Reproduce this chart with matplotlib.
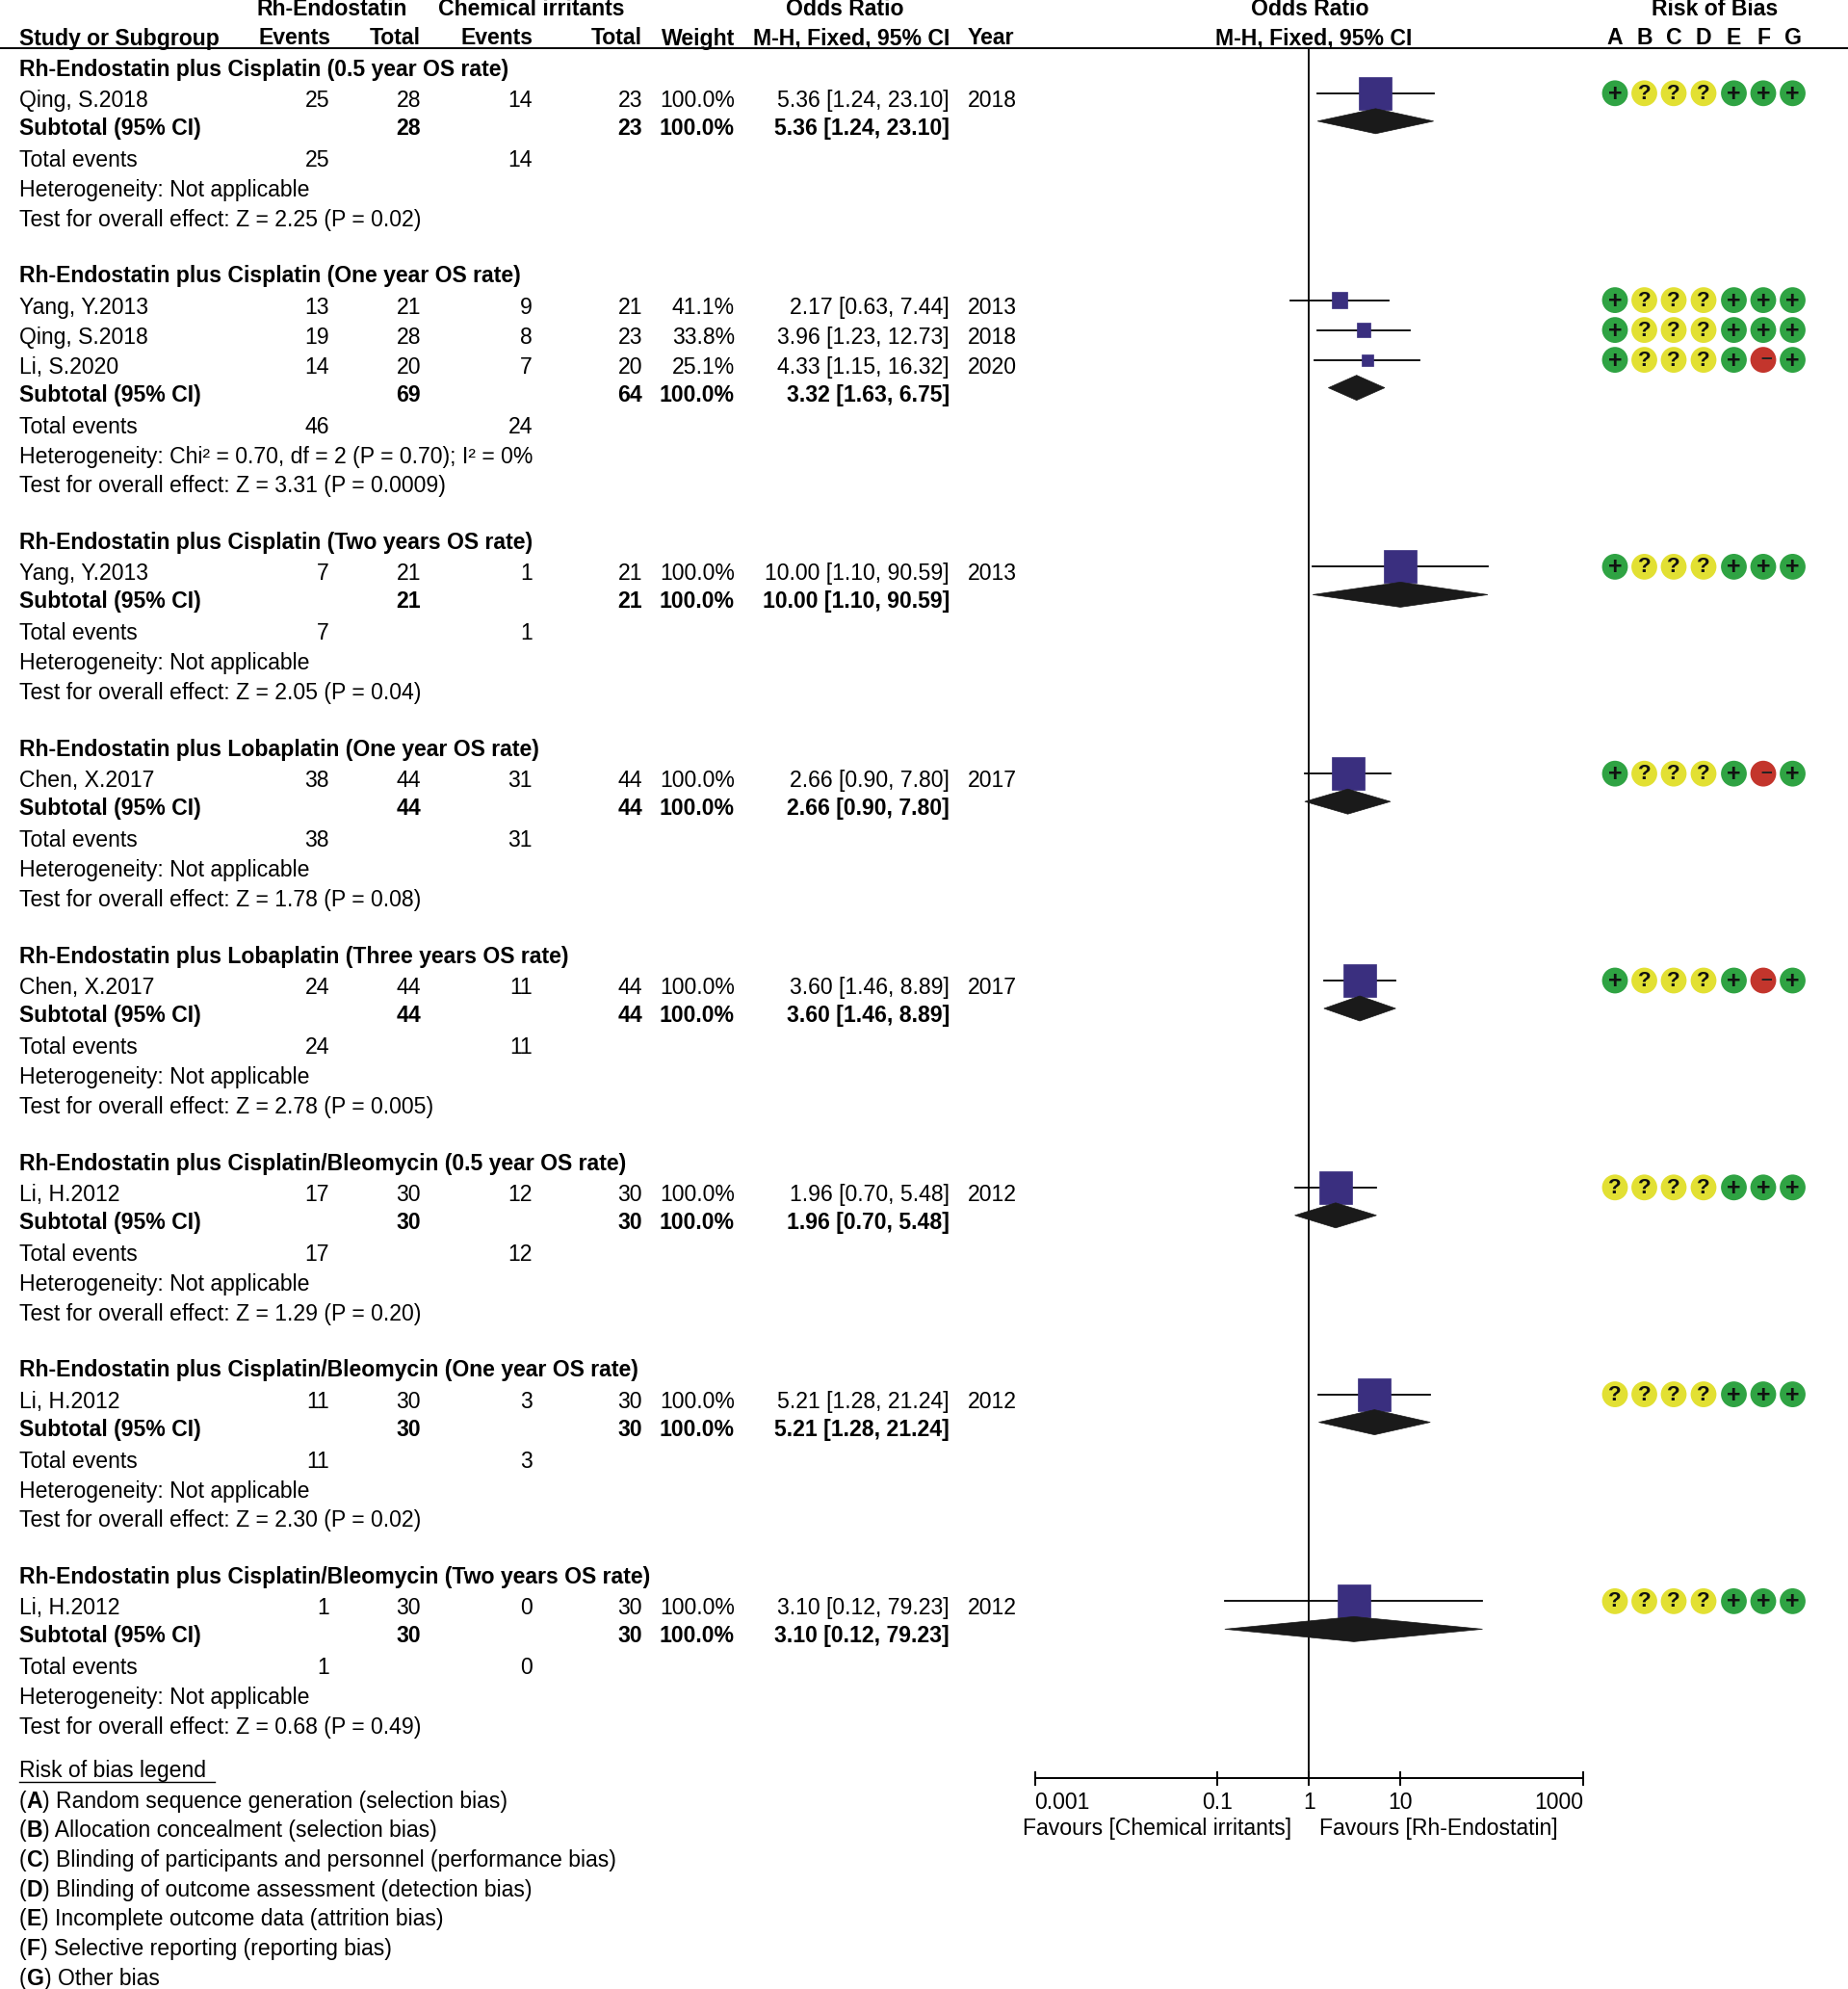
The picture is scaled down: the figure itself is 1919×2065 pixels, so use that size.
import numpy as np
import matplotlib
matplotlib.use("Agg")
import matplotlib.pyplot as plt
from matplotlib.patches import Rectangle, Polygon, Circle

plt.rcParams['font.family'] = ['Liberation Sans', 'DejaVu Sans']

# ---- data ----
group_titles = [
    "Rh-Endostatin plus Cisplatin (0.5 year OS rate)",
    "Rh-Endostatin plus Cisplatin (One year OS rate)",
    "Rh-Endostatin plus Cisplatin (Two years OS rate)",
    "Rh-Endostatin plus Lobaplatin (One year OS rate)",
    "Rh-Endostatin plus Lobaplatin (Three years OS rate)",
    "Rh-Endostatin plus Cisplatin/Bleomycin (0.5 year OS rate)",
    "Rh-Endostatin plus Cisplatin/Bleomycin (One year OS rate)",
    "Rh-Endostatin plus Cisplatin/Bleomycin (Two years OS rate)",
]
study_group = [0, 1, 1, 1, 2, 3, 4, 5, 6, 7]
study_names = ["Qing, S.2018", "Yang, Y.2013", "Qing, S.2018", "Li, S.2020", "Yang, Y.2013",
               "Chen, X.2017", "Chen, X.2017", "Li, H.2012", "Li, H.2012", "Li, H.2012"]
rh_events = [25, 13, 19, 14, 7, 38, 24, 17, 11, 1]
rh_total = [28, 21, 28, 20, 21, 44, 44, 30, 30, 30]
ci_events = [14, 9, 8, 7, 1, 31, 11, 12, 3, 0]
ci_total = [23, 21, 23, 20, 21, 44, 44, 30, 30, 30]
weights = [100.0, 41.1, 33.8, 25.1, 100.0, 100.0, 100.0, 100.0, 100.0, 100.0]
or_est = [5.36, 2.17, 3.96, 4.33, 10.00, 2.66, 3.60, 1.96, 5.21, 3.10]
or_lo = [1.24, 0.63, 1.23, 1.15, 1.10, 0.90, 1.46, 0.70, 1.28, 0.12]
or_hi = [23.10, 7.44, 12.73, 16.32, 90.59, 7.80, 8.89, 5.48, 21.24, 79.23]
years = [2018, 2013, 2018, 2020, 2013, 2017, 2017, 2012, 2012, 2012]
rob = ["+???+++", "+???+++", "+???+++", "+???+-+", "+???+++",
       "+???+-+", "+???+-+", "????+++", "????+++", "????+++"]

sub_or = [5.36, 3.32, 10.00, 2.66, 3.60, 1.96, 5.21, 3.10]
sub_lo = [1.24, 1.63, 1.10, 0.90, 1.46, 0.70, 1.28, 0.12]
sub_hi = [23.10, 6.75, 90.59, 7.80, 8.89, 5.48, 21.24, 79.23]
heterogeneity = ["Not applicable", "Chi\u00b2 = 0.70, df = 2 (P = 0.70); I\u00b2 = 0%",
                 "Not applicable", "Not applicable", "Not applicable",
                 "Not applicable", "Not applicable", "Not applicable"]
overall_z = ["2.25", "3.31", "2.05", "1.78", "2.78", "1.29", "2.30", "0.68"]
overall_p = ["0.02", "0.0009", "0.04", "0.08", "0.005", "0.20", "0.02", "0.49"]

ticks = [0.001, 0.1, 1, 10, 1000]
tick_labels = ["0.001", "0.1", "1", "10", "1000"]

legend_letters = ["A", "B", "C", "D", "E", "F", "G"]
legend_texts = ["Random sequence generation (selection bias)",
                "Allocation concealment (selection bias)",
                "Blinding of participants and personnel (performance bias)",
                "Blinding of outcome assessment (detection bias)",
                "Incomplete outcome data (attrition bias)",
                "Selective reporting (reporting bias)",
                "Other bias"]

# ---- layout ----
W, H = 1919, 2065
FS = 16.6
fig = plt.figure(figsize=(W / 100, H / 100), dpi=100)
ax = fig.add_axes([0, 0, 1, 1])
ax.set_xlim(0, W)
ax.set_ylim(H, 0)
ax.axis('off')

x_study = 20
x_rh_ev, x_rh_tot, x_ci_ev, x_ci_tot = 342, 437, 553, 667
x_weight, x_or, x_year = 763, 986, 1005
rob_x = [1677, 1707.5, 1738, 1769, 1800.5, 1831, 1861.5]
rob_col = {"+": "#2fa343", "?": "#e2e033", "-": "#c3352c"}

fx0, fx1 = 1074.5, 1644
top, axis_y = 49.5, 1845.7
fa = fig.add_axes([fx0 / W, (H - axis_y) / H, (fx1 - fx0) / W, (axis_y - top) / H])
fa.set_xscale('log')
fa.set_xlim(0.001, 1000)
fa.set_ylim(axis_y, top)
fa.patch.set_alpha(0)
for s in ['top', 'left', 'right']:
    fa.spines[s].set_visible(False)
fa.spines['bottom'].set_linewidth(1.4)
fa.set_yticks([])
fa.xaxis.set_minor_locator(matplotlib.ticker.NullLocator())
fa.set_xticks(ticks)
fa.set_xticklabels(tick_labels)
fa.tick_params(axis='x', direction='inout', length=10.8, width=1.4, pad=5, labelsize=FS)
lbls = fa.get_xticklabels()
lbls[0].set_ha('left')
lbls[-1].set_ha('right')
fa.axvline(1, color='black', lw=1.3)
decade = (fx1 - fx0) / 6.0


def t(x, y, s, ha='left', bold=False, **kw):
    ax.text(x, y, s, ha=ha, va='baseline', fontsize=FS,
            fontweight='bold' if bold else 'normal', **kw)


# headers
t(345, 16.5, "Rh-Endostatin", ha='center', bold=True)
t(552, 16.5, "Chemical irritants", ha='center', bold=True)
t(877, 16.5, "Odds Ratio", ha='center', bold=True)
t(1360, 16.5, "Odds Ratio", ha='center', bold=True)
t(1781, 16.5, "Risk of Bias", ha='center', bold=True)
t(x_study, 46.5, "Study or Subgroup", bold=True)
t(x_rh_ev + 2, 46.5, "Events", ha='right', bold=True)
t(x_rh_tot, 46.5, "Total", ha='right', bold=True)
t(x_ci_ev, 46.5, "Events", ha='right', bold=True)
t(x_ci_tot, 46.5, "Total", ha='right', bold=True)
t(x_weight, 46.5, "Weight", ha='right', bold=True)
t(x_or, 46.5, "M-H, Fixed, 95% CI", ha='right', bold=True)
t(x_year, 46.5, "Year", bold=True)
t(1364, 46.5, "M-H, Fixed, 95% CI", ha='center', bold=True)
for lx, letter in zip(rob_x, legend_letters):
    t(lx, 46.5, letter, ha='center', bold=True)
ax.plot([0, W], [top, top], color='black', lw=1.4)


def ci_text(o, lo, hi):
    return f"{o:.2f} [{lo:.2f}, {hi:.2f}]"


y = 78.5
for g, title in enumerate(group_titles):
    t(x_study, y, title, bold=True)
    y += 32.3
    idx = [i for i in range(len(study_names)) if study_group[i] == g]
    for k, i in enumerate(idx):
        if k > 0:
            y += 31
        t(x_study, y, study_names[i])
        t(x_rh_ev, y, str(rh_events[i]), ha='right')
        t(x_rh_tot, y, str(rh_total[i]), ha='right')
        t(x_ci_ev, y, str(ci_events[i]), ha='right')
        t(x_ci_tot, y, str(ci_total[i]), ha='right')
        t(x_weight, y, f"{weights[i]:.1f}%", ha='right')
        t(x_or, y, ci_text(or_est[i], or_lo[i], or_hi[i]), ha='right')
        t(x_year, y, str(years[i]))
        yc = y - 14
        fa.plot([or_lo[i], or_hi[i]], [yc, yc], color='black', lw=1.3)
        side = 4.5 + 0.295 * weights[i]
        hw = side / 2 / decade
        fa.add_patch(Rectangle((or_est[i] * 10 ** -hw, yc - side / 2),
                               or_est[i] * (10 ** hw - 10 ** -hw), side,
                               facecolor='#3a2f7f', edgecolor='#3a2f7f', lw=0.5, zorder=3))
        for lx, code in zip(rob_x, rob[i]):
            ax.add_patch(Circle((lx, yc), 13.4, facecolor=rob_col[code], edgecolor='none'))
            if code == '-':
                ax.text(lx + 3, yc - 2, "\u2013", ha='center', va='center',
                        fontsize=15, fontweight='bold', color='#222222')
            elif code == '+':
                ax.text(lx, yc + 1, "+", ha='center', va='center',
                        fontsize=18, fontweight='bold', color='#111111')
            else:
                ax.text(lx, yc + 0.5, "?", ha='center', va='center',
                        fontsize=16, fontweight='bold', color='#111111')
    y += 29
    t(x_study, y, "Subtotal (95% CI)", bold=True)
    t(x_rh_tot, y, str(sum(rh_total[i] for i in idx)), ha='right', bold=True)
    t(x_ci_tot, y, str(sum(ci_total[i] for i in idx)), ha='right', bold=True)
    t(x_weight, y, "100.0%", ha='right', bold=True)
    t(x_or, y, ci_text(sub_or[g], sub_lo[g], sub_hi[g]), ha='right', bold=True)
    yd = y - 14
    fa.add_patch(Polygon([(sub_lo[g], yd), (sub_or[g], yd - 13), (sub_hi[g], yd), (sub_or[g], yd + 13)],
                         closed=True, facecolor='#1a1a1a', edgecolor='#1a1a1a', lw=0.5, zorder=3))
    y += 32.9
    t(x_study, y, "Total events")
    t(x_rh_ev, y, str(sum(rh_events[i] for i in idx)), ha='right')
    t(x_ci_ev, y, str(sum(ci_events[i] for i in idx)), ha='right')
    y += 31
    t(x_study, y, "Heterogeneity: " + heterogeneity[g])
    y += 31
    t(x_study, y, f"Test for overall effect: Z = {overall_z[g]} (P = {overall_p[g]})")
    y += 58.6

# favours labels
t(1341.5, 1905, "Favours [Chemical irritants]", ha='right')
t(1369.5, 1905, "Favours [Rh-Endostatin]")

# risk of bias legend
t(x_study, 1845, "Risk of bias legend")
ax.plot([x_study, 223], [1849.5, 1849.5], color='black', lw=1.0)
ly = 1876.7
for letter, desc in zip(legend_letters, legend_texts):
    a1 = ax.text(x_study, ly, "(", ha='left', va='baseline', fontsize=FS)
    a2 = ax.annotate(letter, xy=(1, 0), xycoords=a1, ha='left', va='bottom',
                     fontsize=FS, fontweight='bold')
    ax.annotate(") " + desc, xy=(1, 0), xycoords=a2, ha='left', va='bottom', fontsize=FS)
    ly += 30.65

fig.savefig("out.png", dpi=100)
